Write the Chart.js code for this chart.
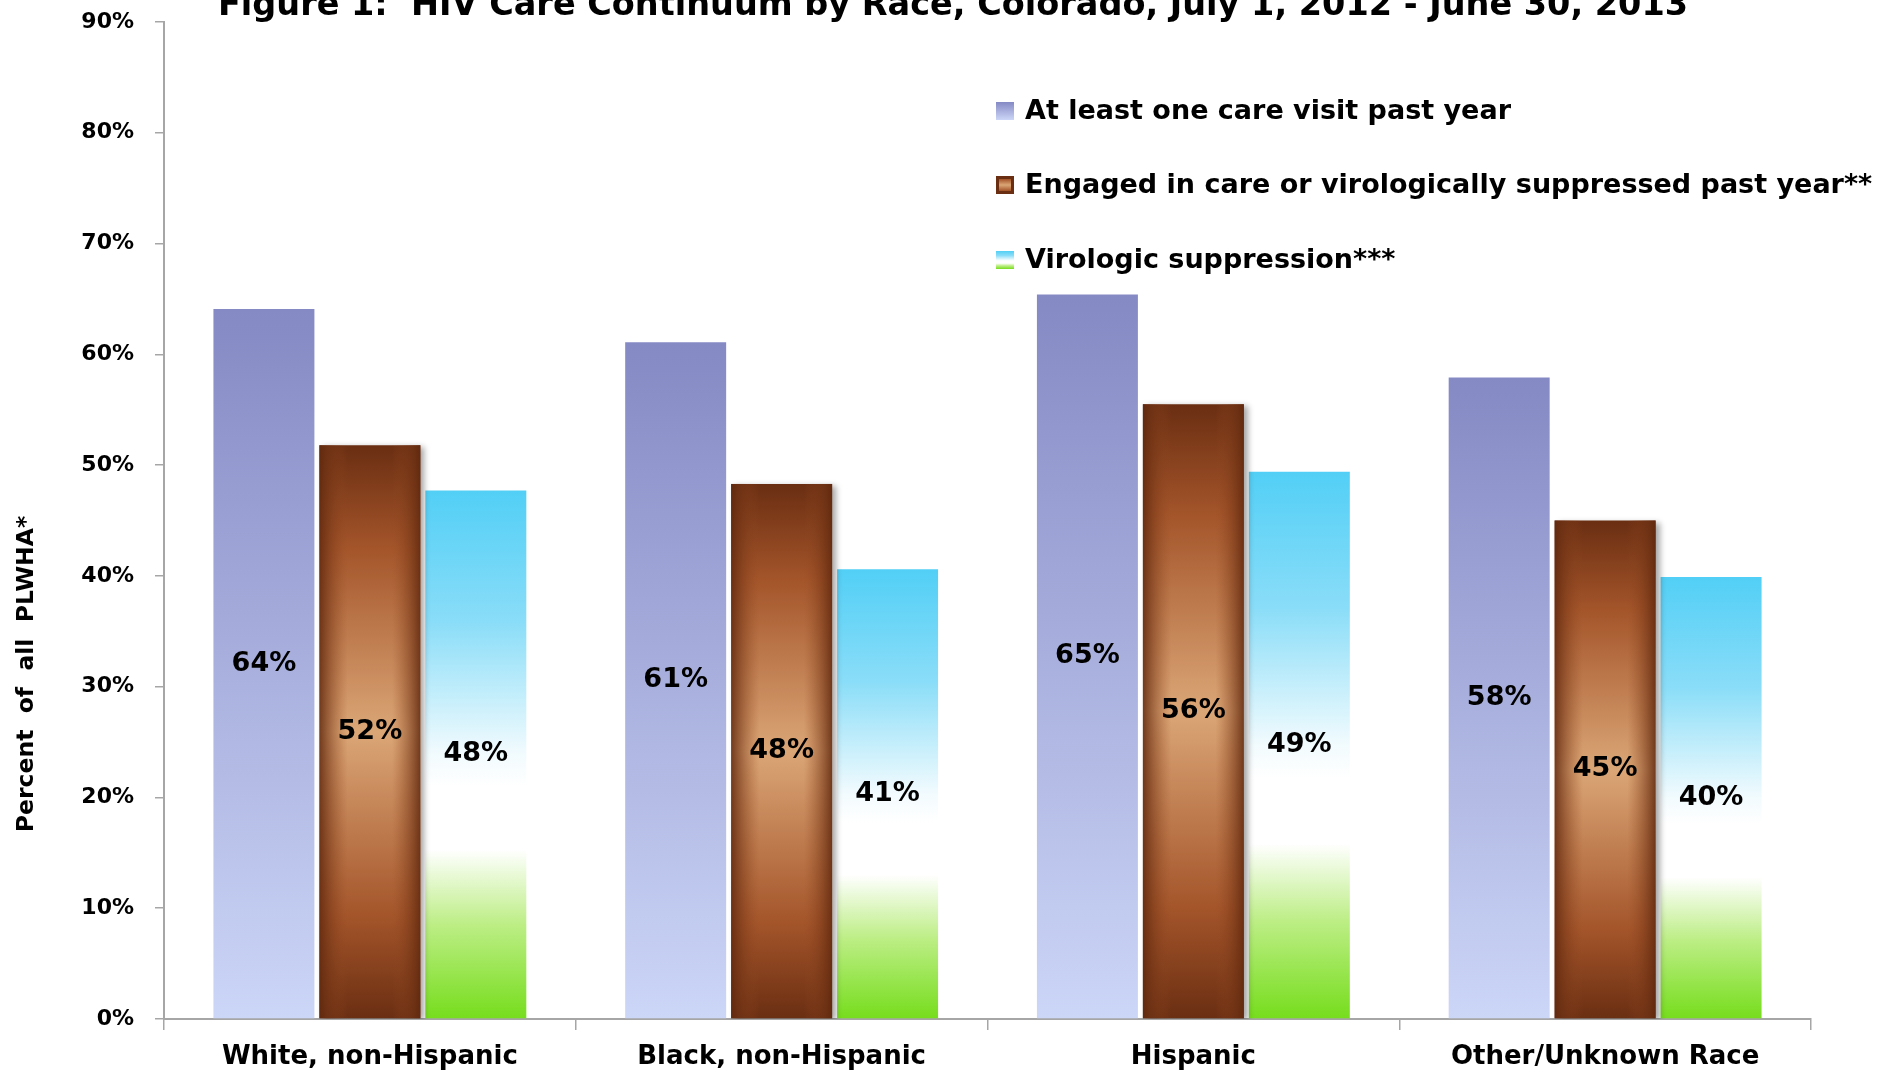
<!DOCTYPE html>
<html lang="en">
<head>
  <meta charset="UTF-8">
  <title>HIV Care Continuum by Race, Colorado</title>
  <script src="https://cdn.jsdelivr.net/npm/chart.js"></script>
  <style>
    body { margin: 0; padding: 0; background: #fff; }
    #wrap { width: 1898px; height: 1072px; position: relative; }
  </style>
</head>
<body>
  <div id="wrap"><canvas id="myChart"></canvas></div>

  <script>
    const categories = ['White, non-Hispanic', 'Black, non-Hispanic', 'Hispanic', 'Other/Unknown Race'];
    const seriesNames = [
      'At least one care visit past year',
      'Engaged in care or virologically suppressed past year**',
      'Virologic suppression***'
    ];
    const careVisit = [64.1, 61.1, 65.4, 57.9];
    const engaged = [51.8, 48.3, 55.5, 45.0];
    const suppressed = [47.7, 40.6, 49.4, 39.9];
    const titleText = 'Figure 1:  HIV Care Continuum by Race, Colorado, July 1, 2012 - June 30, 2013';
    const yTitle = 'Percent  of  all  PLWHA*';

    const FONT = "'DejaVu Sans', Verdana, sans-serif";

    const blueStops = [[0, '#8589c4'], [1, '#ccd6f7']];
    const brownStops = [[0, '#6a2e12'], [0.18, '#a4552a'], [0.5, '#dba676'], [0.82, '#a4552a'], [1, '#6a2e12']];
    const skyStops = [[0, '#52cff6'], [0.25, '#8addf8'], [0.5, '#f2fbfe'], [0.56, '#ffffff'], [0.68, '#ffffff'], [0.82, '#bdee86'], [1, '#76dd1c']];

    function barGradient(ctx, stops) {
      const chart = ctx.chart;
      const y = chart.scales.y;
      if (!y || ctx.raw == null) return stops[0][1];
      const top = y.getPixelForValue(ctx.raw);
      const base = y.getPixelForValue(0);
      if (!isFinite(top) || !isFinite(base) || top === base) return stops[0][1];
      const g = chart.ctx.createLinearGradient(0, top, 0, base);
      stops.forEach(s => g.addColorStop(s[0], s[1]));
      return g;
    }

    // shadow + side shading for the brown bars, labels, legend, titles
    const decorPlugin = {
      id: 'decor',
      beforeDatasetDraw(chart, args) {
        if (args.index === 1) {
          const c = chart.ctx;
          c.save();
          c.shadowColor = 'rgba(0,0,0,0.35)';
          c.shadowBlur = 6;
          c.shadowOffsetX = 4;
          c.shadowOffsetY = 2;
        }
      },
      afterDatasetDraw(chart, args) {
        if (args.index === 1) chart.ctx.restore();
      },
      afterDatasetsDraw(chart) {
        const c = chart.ctx;
        // brown side shading
        chart.getDatasetMeta(1).data.forEach(el => {
          const p = el.getProps(['x', 'y', 'base', 'width'], true);
          const left = p.x - p.width / 2;
          const g = c.createLinearGradient(left, 0, left + p.width, 0);
          g.addColorStop(0, 'rgba(95,40,14,0.85)');
          g.addColorStop(0.28, 'rgba(150,75,35,0)');
          g.addColorStop(0.72, 'rgba(150,75,35,0)');
          g.addColorStop(1, 'rgba(95,40,14,0.85)');
          c.fillStyle = g;
          c.fillRect(left, p.y, p.width, p.base - p.y);
        });
        // value labels
        c.save();
        c.font = 'bold 27px ' + FONT;
        c.fillStyle = '#000';
        c.textAlign = 'center';
        c.textBaseline = 'middle';
        chart.data.datasets.forEach((ds, i) => {
          chart.getDatasetMeta(i).data.forEach((el, j) => {
            const p = el.getProps(['x', 'y', 'base'], true);
            c.fillText(Math.round(ds.data[j]) + '%', p.x, (p.y + p.base) / 2);
          });
        });
        c.restore();
      },
      afterDraw(chart) {
        const c = chart.ctx;
        c.save();
        // title (cut at top edge like the original)
        c.font = 'bold 33.5px ' + FONT;
        c.fillStyle = '#000';
        c.textAlign = 'center';
        c.textBaseline = 'alphabetic';
        c.fillText(titleText, 953, 15);

        // y axis title
        c.save();
        c.translate(27, 674);
        c.rotate(-Math.PI / 2);
        c.font = 'bold 23.5px ' + FONT;
        c.textBaseline = 'middle';
        c.fillText(yTitle, 0, 0);
        c.restore();

        // legend
        const lx = 996, rows = [111, 185, 260], box = 18;
        const stopsList = [blueStops, brownStops, skyStops];
        c.font = 'bold 27px ' + FONT;
        c.textAlign = 'left';
        c.textBaseline = 'middle';
        seriesNames.forEach((name, i) => {
          const top = rows[i] - box / 2;
          const g = c.createLinearGradient(0, top, 0, top + box);
          stopsList[i].forEach(s => g.addColorStop(s[0], s[1]));
          c.fillStyle = g;
          c.fillRect(lx, top, box, box);
          if (i === 1) {
            c.strokeStyle = '#6a2e12';
            c.lineWidth = 3;
            c.strokeRect(lx + 1.5, top + 1.5, box - 3, box - 3);
          }
          c.fillStyle = '#000';
          c.fillText(name, lx + 29, rows[i] + 1);
        });
        c.restore();
      }
    };

    new Chart(document.getElementById('myChart'), {
      type: 'bar',
      data: {
        labels: categories,
        datasets: [
          { label: seriesNames[0], data: careVisit, backgroundColor: ctx => barGradient(ctx, blueStops) },
          { label: seriesNames[1], data: engaged, backgroundColor: ctx => barGradient(ctx, brownStops) },
          { label: seriesNames[2], data: suppressed, backgroundColor: ctx => barGradient(ctx, skyStops) }
        ]
      },
      options: {
        responsive: true,
        maintainAspectRatio: false,
        animation: false,
        layout: { padding: { top: 22, right: 87, left: 0, bottom: 0 } },
        datasets: { bar: { categoryPercentage: 0.772, barPercentage: 0.953 } },
        plugins: {
          legend: { display: false },
          title: { display: false },
          tooltip: { enabled: false }
        },
        scales: {
          x: {
            grid: { offset: true, drawOnChartArea: false, drawTicks: true, tickLength: 11, color: '#a6a6a6', lineWidth: 1.5 },
            border: { color: '#a6a6a6', width: 2 },
            ticks: { color: '#000', font: { family: FONT, size: 26, weight: 'bold' }, padding: 12, maxRotation: 0 },
            afterFit(scale) { scale.height = 53; scale.paddingLeft = 0; scale.paddingRight = 0; }
          },
          y: {
            min: 0,
            max: 90,
            grid: { drawOnChartArea: false, drawTicks: true, tickLength: 9, color: '#a6a6a6', lineWidth: 1.5 },
            border: { color: '#a6a6a6', width: 2 },
            ticks: {
              stepSize: 10,
              color: '#000',
              padding: 21,
              font: { family: FONT, size: 22, weight: 'bold' },
              callback: v => v + '%'
            },
            afterFit(scale) { scale.width = 164; scale.paddingTop = 0; scale.paddingBottom = 0; }
          }
        }
      },
      plugins: [decorPlugin]
    });
  </script>
</body>
</html>
